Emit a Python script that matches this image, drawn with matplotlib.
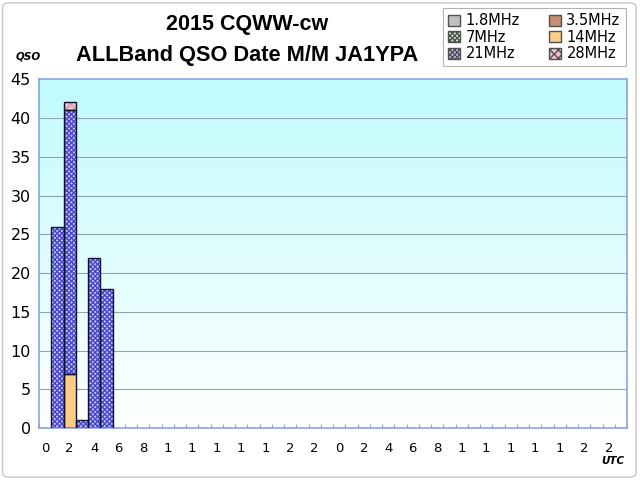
import numpy as np
import matplotlib
matplotlib.use("Agg")
import matplotlib.pyplot as plt
from matplotlib.patches import Patch, FancyBboxPatch
from matplotlib.colors import LinearSegmentedColormap

# ---- data ----
hours = list(range(24)) + list(range(24))          # 48 hourly categories (two days)
xlabels = ['0', '2', '4', '6', '8', '1', '1', '1', '1', '1', '2', '2',
           '0', '2', '4', '6', '8', '1', '1', '1', '1', '1', '2', '2']
bands = ['1.8MHz', '3.5MHz', '7MHz', '14MHz', '21MHz', '28MHz']
q160 = [0]*48
q80 = [0]*48
q40 = [0]*48
q20 = [0, 0, 7, 0, 0, 0] + [0]*42
q15 = [0, 26, 34, 1, 22, 18] + [0]*42
q10 = [0, 0, 1, 0, 0, 0] + [0]*42
series = [q160, q80, q40, q20, q15, q10]

face = ['#c0c0c0', '#c89070', '#c8f0c8', '#ffcc88', '#c4c4fa', '#ecc0cc']
hatchc = ['#808080', '#a06040', '#309030', '#ffcc88', '#4848c8', '#d4a0b0']
hatches = [None, None, 'xxxxxxx', None, 'xxxxxxx', 'xxxx']

matplotlib.rcParams['hatch.linewidth'] = 1.0

fig = plt.figure(figsize=(6.4, 4.8), dpi=100)
ax = fig.add_axes([0.061, 0.108, 0.919, 0.727])

n = len(hours)
x = np.arange(n)
ax.set_xlim(-0.5, n - 0.5)
ax.set_ylim(0, 45)

# gradient background
cmap = LinearSegmentedColormap.from_list('bg', ['#ffffff', '#c0fbfd'])
grad = np.linspace(0, 1, 256).reshape(-1, 1)
ax.imshow(grad, extent=(-0.5, n - 0.5, 0, 45), origin='lower', aspect='auto',
          cmap=cmap, zorder=0)

for yv in range(5, 45, 5):
    ax.axhline(yv, color='#8fa6ac', lw=0.8, zorder=1)

bottom = np.zeros(n)
for vals, fc, hc, h in zip(series, face, hatchc, hatches):
    v = np.array(vals, dtype=float)
    mask = v > 0
    if mask.any():
        ax.bar(x[mask], v[mask], bottom=bottom[mask], width=1.0, color=fc,
               hatch=h, edgecolor=hc, linewidth=0, zorder=2)
        ax.bar(x[mask], v[mask], bottom=bottom[mask], width=1.0, fill=False,
               edgecolor='#101030', linewidth=1.0, zorder=3)
    bottom += v

# axes styling
for s in ax.spines.values():
    s.set_color('#8aa4e0')
    s.set_linewidth(1.2)
ax.set_yticks(range(0, 46, 5))
ax.tick_params(axis='y', length=0, labelsize=11.5, pad=6)
ax.set_xticks(x[::2])
ax.set_xticklabels(xlabels, fontsize=9.5)
ax.set_xticks(np.arange(-0.5, n, 1), minor=True)
ax.tick_params(axis='x', which='major', length=0, pad=10)
ax.tick_params(axis='x', which='minor', direction='in', length=3,
               color='#8aa4e0', width=0.8)

# titles
fig.text(0.386, 0.948, '2015 CQWW-cw', ha='center', va='center',
         fontsize=15.5, fontweight='bold', family='Liberation Sans')
fig.text(0.386, 0.885, 'ALLBand QSO Date M/M JA1YPA', ha='center', va='center',
         fontsize=15.7, fontweight='bold', family='Liberation Sans')
fig.text(0.044, 0.883, 'QSO', ha='center', va='center', fontsize=7.5,
         fontweight='bold', style='italic')
fig.text(0.957, 0.040, 'UTC', ha='center', va='center', fontsize=7.5,
         fontweight='bold', style='italic')

# legend
handles = []
for lab, fc, hc, h in zip(bands, face, hatchc, hatches):
    handles.append(Patch(facecolor=fc, edgecolor='#505050', hatch=h, label=lab))
order = [0, 2, 4, 1, 3, 5]
leg = fig.legend([handles[i] for i in order], [bands[i] for i in order],
                 ncol=2, loc='upper left', bbox_to_anchor=(0.692, 0.983),
                 borderaxespad=0,
                 fontsize=10.5, frameon=True, fancybox=False, edgecolor='#a0a0a0',
                 handlelength=0.8, handleheight=0.8, handletextpad=0.4,
                 columnspacing=2.0, labelspacing=0.1, borderpad=0.35)
leg.get_frame().set_linewidth(0.8)

# figure border
fig.patches.append(FancyBboxPatch((0.004, 0.006), 0.99, 0.988,
                                  boxstyle='round,pad=0,rounding_size=0.01',
                                  transform=fig.transFigure, fill=False,
                                  edgecolor='#c8c8c8', linewidth=1.0))

fig.savefig('out.png', dpi=100)
